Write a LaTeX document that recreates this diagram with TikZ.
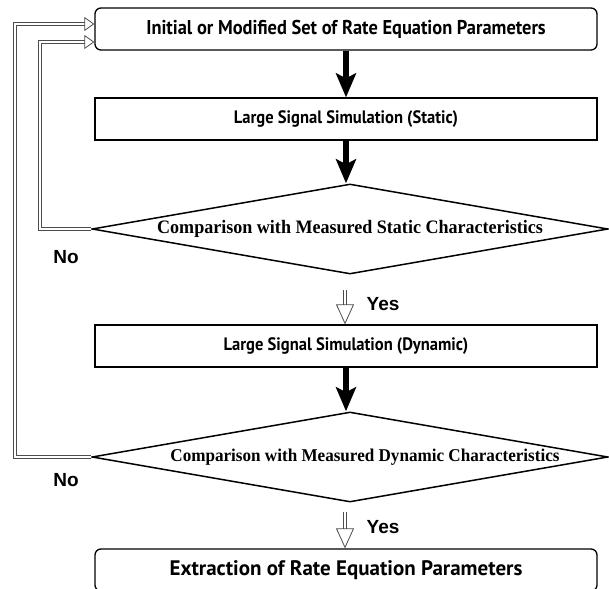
\documentclass[tikz,border=0pt]{standalone}
\usepackage{fontspec}
\usetikzlibrary{arrows.meta,shapes.geometric,calc}
\newfontfamily\boxfont{PT Sans}[FakeStretch=0.92]
\newfontfamily\boxfontw{PT Sans}[FakeStretch=1.0]
\newfontfamily\dfont{Liberation Serif}[FakeStretch=0.95]
\newfontfamily\lfont{Liberation Sans}
\begin{document}
\begin{tikzpicture}[x=1pt,y=-1pt,
 box/.style={draw, line width=1.3pt, minimum width=502pt, minimum height=42pt, inner sep=0pt, font=\boxfont\bfseries\fontsize{18}{21}\selectfont},
 rbox/.style={box, rounded corners=6pt, font=\boxfont\bfseries\fontsize{20}{23}\selectfont},
 dec/.style={draw, line width=1.5pt, diamond, shape aspect=5.73, minimum width=516pt, minimum height=90pt, inner sep=0pt, font=\dfont\bfseries\fontsize{19}{22}\selectfont},
 boldarrow/.style={line width=6pt, -{Stealth[length=24pt,width=20pt,inset=5pt]}},
 dbl/.style={draw=black!70, line width=0.8pt, double=white, double distance=2pt},
 yesarrow/.style={dbl, -{Triangle[open,length=20pt,width=18pt]}},
 noarrow/.style={dbl, -{Triangle[open,length=10pt,width=14pt]}},
 lab/.style={font=\lfont\bfseries\fontsize{19}{22}\selectfont, inner sep=0pt}]
\useasboundingbox (0,0) rectangle (609,588);
\clip (0,0) rectangle (609,588);

\node[rbox] (b1) at (346,29) {Initial or Modified Set of Rate Equation Parameters};
\node[box] (b2) at (346,119) {Large Signal Simulation (Static)};
\node[dec] (d1) at (350,229) {Comparison with Measured Static Characteristics};
\node[box] (b3) at (346,346) {Large Signal Simulation (Dynamic)};
\node[dec, font=\dfont\bfseries\fontsize{18}{21}\selectfont] (d2) at (350,457) {\hspace*{30pt}Comparison with Measured Dynamic Characteristics};
\node[rbox, font=\boxfontw\bfseries\fontsize{21}{24}\selectfont] (b4) at (346,570) {Extraction of Rate Equation Parameters};

\draw[boldarrow] (b1.south) -- (b1.south |- b2.north);
\draw[boldarrow] (b2.south) -- (b2.south |- d1.north);
\draw[boldarrow] (b3.south) -- (b3.south |- d2.north);

\coordinate (y1) at (345,290);
\coordinate (y2) at (345,512);
\draw[yesarrow] (y1) -- (y1 |- b3.north);
\draw[yesarrow] (y2) -- (y2 |- b4.north);

\coordinate (l1) at (40,42);
\coordinate (l2) at (15,24);
\draw[noarrow] (d1.west) -| (l1) -- (l1 -| b1.west);
\draw[noarrow] (d2.west) -| (l2) -- (l2 -| b1.west);

\node[lab] (no1) at (66,257) {No};
\node[lab] (no2) at (66,480) {No};
\node[lab] (yes1) at (383,304) {Yes};
\node[lab] (yes2) at (383,527) {Yes};
\end{tikzpicture}
\end{document}
